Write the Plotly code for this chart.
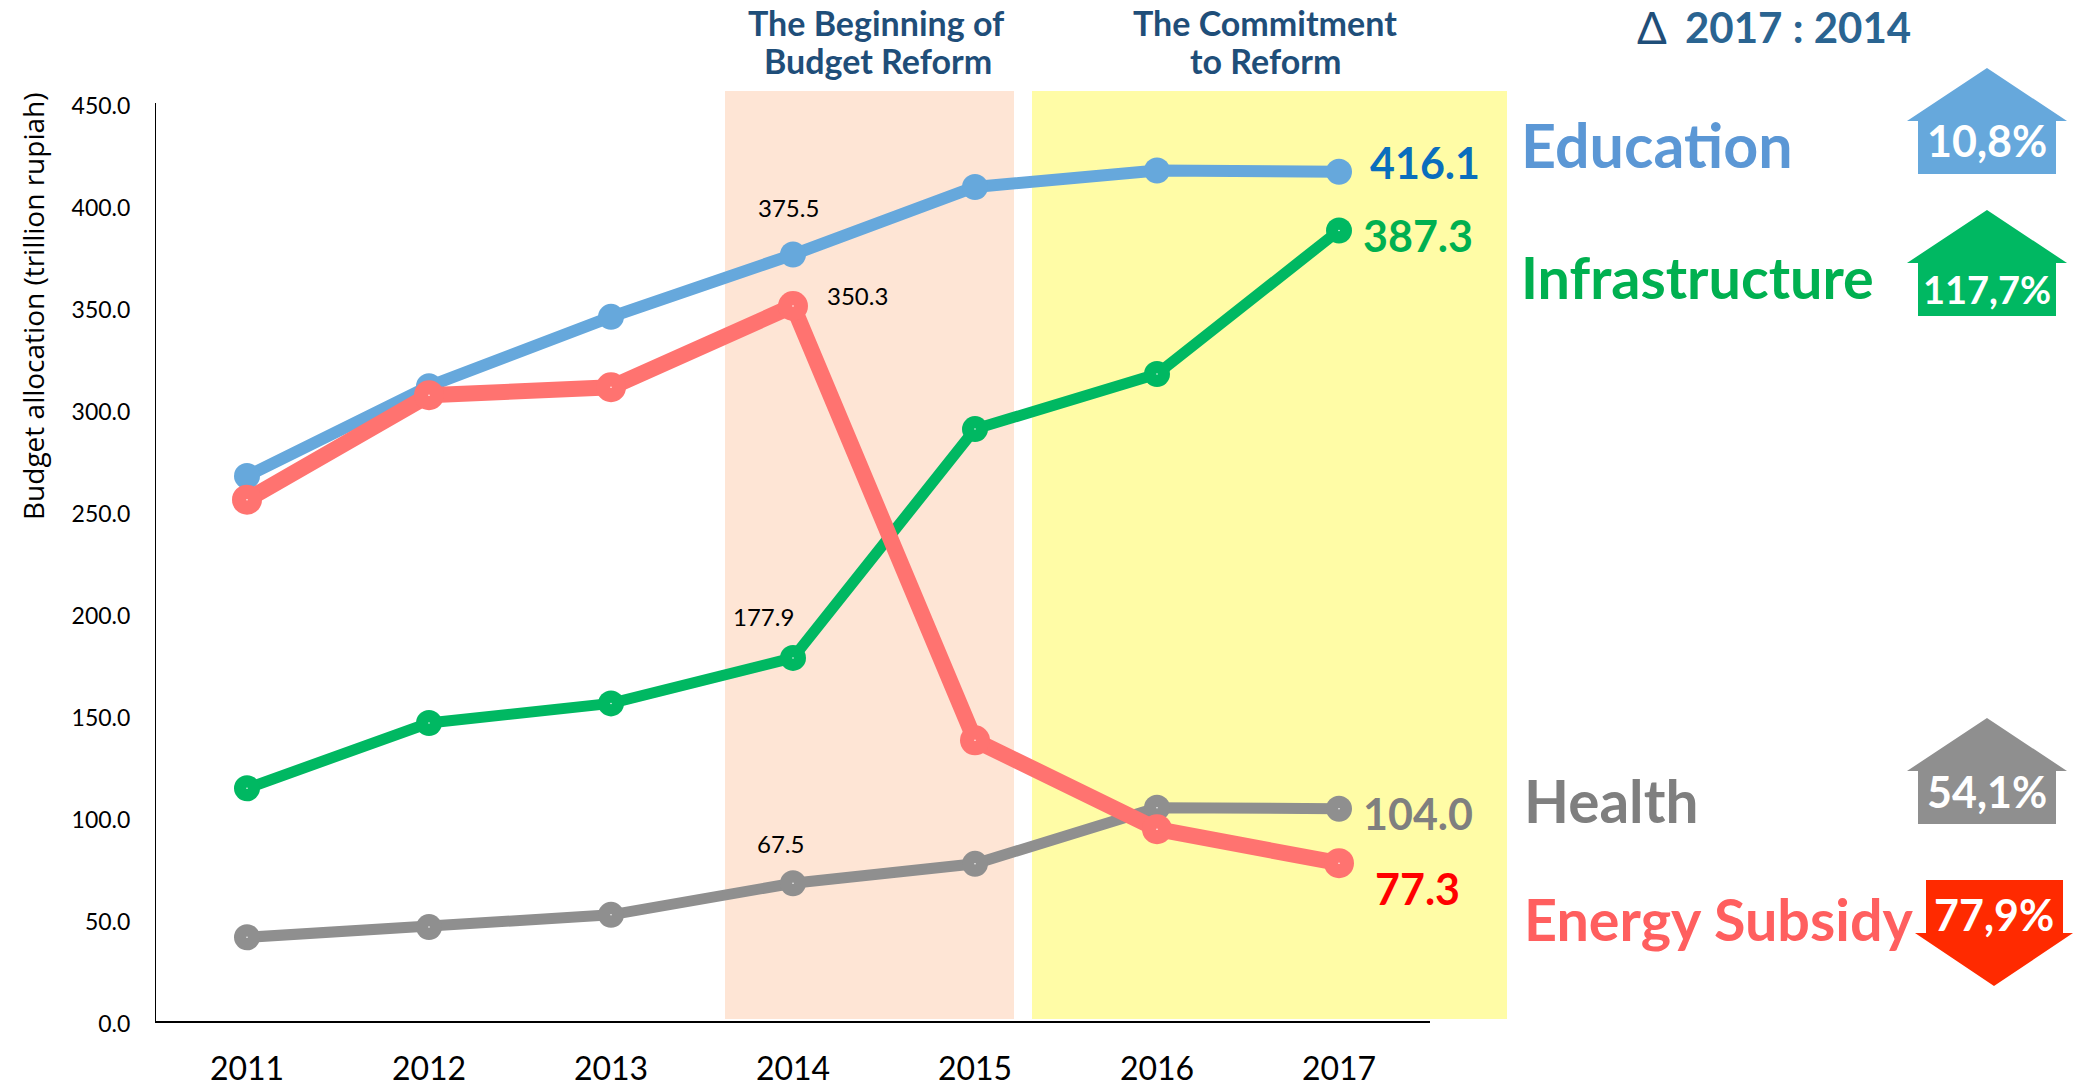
import plotly.graph_objects as go

W, H = 2073, 1089
years = ["2011", "2012", "2013", "2014", "2015", "2016", "2017"]
education = [267, 311, 345, 375.5, 408.6, 416.7, 416.1]
energy = [255.4, 306.6, 310.5, 350.3, 137.5, 94, 77.3]
infrastructure = [114, 146, 155.6, 177.9, 290, 317, 387.3]
health = [41, 46, 52, 67.5, 77, 104.5, 104.0]
y_ticks = [0, 50, 100, 150, 200, 250, 300, 350, 400, 450]

C_EDU, C_INF, C_HEA, C_ENE = "#66A8DC", "#00B862", "#8F8F8F", "#FF7370"
DARK = "#1F4E79"
SANS = "Lato"

def px(x): return x / W
def py(y): return 1 - y / H

def poly(points, color):
    path = "M " + " L ".join(f"{px(a):.5f},{py(b):.5f}" for a, b in points) + " Z"
    return dict(type="path", xref="paper", yref="paper", path=path,
                fillcolor=color, line=dict(width=0), layer="above")

def house(top, cx=1987, color=C_EDU):
    return poly([(cx, top), (cx + 80, top + 53), (cx + 69, top + 53), (cx + 69, top + 106),
                 (cx - 69, top + 106), (cx - 69, top + 53), (cx - 80, top + 53)], color)

def band(x0, x1, color):
    return dict(type="rect", xref="paper", yref="paper", x0=px(x0), x1=px(x1), y0=py(1019),
                y1=py(91), fillcolor=color, line=dict(width=0), layer="below")

fig = go.Figure()
series = [("Education", education, C_EDU, 12, 26), ("Infrastructure", infrastructure, C_INF, 11, 26),
          ("Health", health, C_HEA, 11, 26), ("Energy Subsidy", energy, C_ENE, 16, 30)]
for name, vals, col, lw, ms in series:
    fig.add_trace(go.Scatter(x=years, y=vals, name=name, mode="lines+markers",
                             line=dict(color=col, width=lw), marker=dict(color=col, size=ms),
                             cliponaxis=False))
for name, vals, col, lw, ms in series[1:]:
    fig.add_trace(go.Scatter(x=years, y=vals, mode="markers", marker=dict(color="white", size=1.5),
                             cliponaxis=False, hoverinfo="skip"))

shapes = [band(725, 1014, "#FEE5D5"), band(1032, 1507, "#FFFCA6"),
          house(68, color=C_EDU), house(210, color=C_INF), house(718, color=C_HEA),
          poly([(1926, 880), (2063, 880), (2063, 933), (2073, 933), (1994, 986), (1915, 933), (1926, 933)], "#FF2A00")]

ann = []
def text(x, y, s, size, color, bold=True, anchor="center", family=SANS, angle=0):
    ann.append(dict(xref="paper", yref="paper", x=px(x), y=py(y), text=f"<b>{s}</b>" if bold else s,
                    showarrow=False, xanchor=anchor, yanchor="middle", textangle=angle,
                    font=dict(family=family, size=size, color=color)))

text(876, 22, "The Beginning of", 34, DARK)
text(878, 60, "Budget Reform", 34, DARK)
text(1265, 22, "The Commitment", 34, DARK)
text(1265, 60, "to Reform", 34, DARK)
text(1652, 27, "Δ", 44, DARK, bold=False)
text(1798, 27, "2017 : 2014", 42, "#2A6491")
text(1519, 144, "Education", 61, "#5B97D5", anchor="left")
text(1519, 277, "Infrastructure", 57.5, "#00B050", anchor="left")
text(1522, 800, "Health", 58.5, "#7F7F7F", anchor="left")
text(1522, 918, "Energy Subsidy", 57.5, "#FF5F5F", anchor="left")
text(1987, 141, "10,8%", 43, "white")
text(1987, 289, "117,7%", 38, "white")
text(1987, 791, "54,1%", 43, "white")
text(1994, 914, "77,9%", 43, "white")
text(33, 307, "Budget allocation (trillion rupiah)", 28, "black", bold=False, family="Open Sans", angle=-90)

def value_label(cat, val, dx, dy, size, color, bold):
    s = f"{val:.1f}"
    ann.append(dict(xref="x", yref="y", x=years.index(cat), y=val, text=f"<b>{s}</b>" if bold else s,
                    showarrow=False, xshift=dx, yshift=-dy, xanchor="center", yanchor="middle",
                    font=dict(family=SANS, size=size, color=color)))

value_label("2014", education[3], -5, -47, 24, "black", False)
value_label("2014", energy[3], 64, -11, 24, "black", False)
value_label("2014", infrastructure[3], -30, -41, 24, "black", False)
value_label("2014", health[3], -13, -40, 24, "black", False)
value_label("2017", education[6], 86, -9, 43, "#0A6EBD", True)
value_label("2017", infrastructure[6], 79, 5, 43, "#00B050", True)
value_label("2017", health[6], 79, 5, 43, "#7F7F7F", True)
value_label("2017", energy[6], 78, 25, 43, "#FF0000", True)

fig.update_layout(
    width=W, height=H, margin=dict(l=0, r=0, t=0, b=0, autoexpand=False), showlegend=False,
    paper_bgcolor="white", plot_bgcolor="rgba(0,0,0,0)", shapes=shapes, annotations=ann,
    xaxis=dict(domain=[px(156), px(1430)], type="category", categoryorder="array", categoryarray=years,
               range=[-0.5, 6.5], showgrid=False, zeroline=False, showline=True, linecolor="black",
               linewidth=2, ticks="", ticklabelstandoff=19, automargin=False,
               tickfont=dict(family=SANS, size=32, color="black")),
    yaxis=dict(domain=[py(1021), py(102.5)], range=[0, 450], tickvals=y_ticks,
               ticktext=[f"{v:.1f}" for v in y_ticks], showgrid=False, zeroline=False, showline=True,
               linecolor="black", linewidth=1, ticks="", ticklabelstandoff=20, ticklabelshift=3, automargin=False,
               tickfont=dict(family=SANS, size=23, color="black")),
)
fig.write_html("out.html", config=dict(displayModeBar=False),
               post_script="document.body.style.margin='0';document.documentElement.style.overflow='hidden';")
